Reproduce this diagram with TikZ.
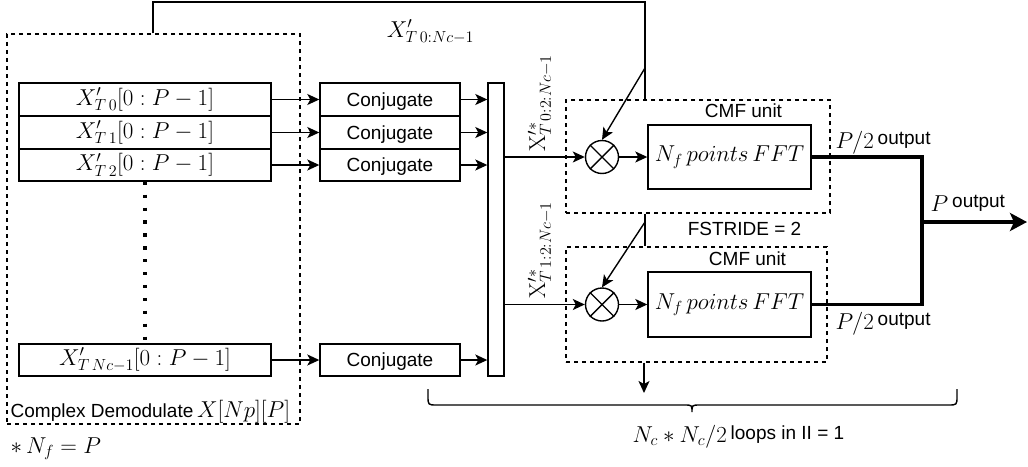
\RequirePackage{fix-cm}
\documentclass[tikz,border=0pt]{standalone}
\usepackage[no-math]{fontspec}
\newfontfamily\arialfam{Liberation Sans}
\usetikzlibrary{arrows.meta}
\newcommand\sanstxt{\fontsize{19}{23}\selectfont\arialfam}
\newcommand\mathsz{\fontsize{23}{28}\selectfont}
\begin{document}
\begin{tikzpicture}[x=1pt,y=-1pt,
  line width=1.4pt,
  >={Stealth[length=12pt,width=11pt,inset=3pt]},
  inbox/.style={draw,rectangle,inner sep=0pt,minimum width=252pt,minimum height=33pt,font=\mathsz},
  conjbox/.style={draw,rectangle,inner sep=0pt,minimum width=140pt,minimum height=33pt,font=\sanstxt,text height=13.6pt,text depth=0pt},
  dashbox/.style={draw,rectangle,inner sep=0pt,line width=1.3pt,dash pattern=on 4pt off 4pt},
  fftbox/.style={draw,rectangle,inner sep=0pt,minimum width=163pt,font=\mathsz},
  mult/.style={draw,circle,inner sep=0pt,minimum size=33pt},
  sanslbl/.style={inner sep=0pt,font=\sanstxt},
  mathlbl/.style={inner sep=0pt,font=\mathsz},
  thickline/.style={line width=3.5pt,line join=miter},
  bigarrow/.style={line width=3.5pt,-{Stealth[length=17pt,width=18pt,inset=4pt]}}
]
\useasboundingbox (0,0) rectangle (1028,466);

% outer dashed box
\node[dashbox,minimum width=293pt,minimum height=390pt] (demod) at (153.5,229) {};

% input rows
\node[inbox] (in0) at (145,99.5) {$X'_{T\,0}[0:P-1]$};
\node[inbox] (in1) at (145,132.5) {$X'_{T\,1}[0:P-1]$};
\node[inbox,minimum height=32pt] (in2) at (145,165) {$X'_{T\,2}[0:P-1]$};
\node[inbox,minimum height=32pt] (in3) at (145,360) {$X'_{T\,Nc-1}[0:P-1]$};

% dotted line
\draw[line width=3.3pt,dash pattern=on 3.3pt off 9.6pt] (in2.south) -- (in3.north);

% conjugate boxes
\node[conjbox] (cj0) at (390,99.5) {Conjugate};
\node[conjbox] (cj1) at (390,132.5) {Conjugate};
\node[conjbox,minimum height=32pt] (cj2) at (390,165) {Conjugate};
\node[conjbox,minimum height=32pt] (cj3) at (390,360) {Conjugate};

\foreach \i in {0,1,2,3} {\draw[->] (in\i.east) -- (cj\i.west);}

% bar
\node[draw,rectangle,inner sep=0pt,minimum width=16pt,minimum height=293pt] (bar) at (496,229.5) {};
\foreach \i in {0,1,2,3} {\draw[->] (cj\i.east) -- (bar.west |- cj\i.east);}

% CMF units
\node[dashbox,minimum width=264pt,minimum height=113pt] (cmf1) at (698,156.5) {};
\node[dashbox,minimum width=261pt,minimum height=115pt] (cmf2) at (696.5,304.5) {};
\node[sanslbl] (cmfl1) at (743.5,111) {CMF unit};
\node[sanslbl] (cmfl2) at (747.5,258.5) {CMF unit};

\node[fftbox,minimum height=64pt] (fft1) at (729.5,157) {$N_f\,points\,FFT$};
\node[fftbox,minimum height=65pt] (fft2) at (729.5,304.5) {$N_f\,points\,FFT$};

\node[mult] (ot1) at (602,157) {};
\node[mult] (ot2) at (602,304.5) {};
\draw (ot1.north west) -- (ot1.south east) (ot1.north east) -- (ot1.south west);
\draw (ot2.north west) -- (ot2.south east) (ot2.north east) -- (ot2.south west);

\draw[->] (bar.east |- ot1) -- (ot1.west);
\draw[->] (bar.east |- ot2) -- (ot2.west);
\draw[->] (ot1.east) -- (fft1.west);
\draw[->] (ot2.east) -- (fft2.west);

% feedback line
\coordinate (c153) at (153,0);
\coordinate (c645) at (645,0);
\coordinate (top1) at (153,2);
\coordinate (top2) at (645,2);
\coordinate (d1) at (645,68);
\coordinate (d2) at (645,222);
\draw (demod.north -| c153) -- (top1) -- (top2) -- (cmf1.north -| c645);
\draw[->] (d1) -- (ot1.north);
\draw (cmf1.south -| c645) -- (cmf2.north -| c645);
\draw[->] (d2) -- (ot2.north);

% down arrow
\coordinate (c644) at (644,0);
\coordinate (dn) at (644,393);
\draw[->] (cmf2.south -| c644) -- (dn);

% outputs
\coordinate (oj) at (922,222);
\coordinate (oend) at (1027,222);
\draw[thickline] (fft1.east) -- (fft1.east -| oj) -- (fft2.east -| oj) -- (fft2.east);
\draw[bigarrow] (oj) -- (oend);

% labels
\node[mathlbl,anchor=base] (xtop) at (430.5,37) {$X'_{T\,0:Nc-1}$};
\node[mathlbl,rotate=90] (xr1) at (540,103) {$\mathrm{X}'^{*}_{T\,0:2:Nc-1}$};
\node[mathlbl,rotate=90] (xr2) at (540,250) {$\mathrm{X}'^{*}_{T\,1:2:Nc-1}$};
\node[mathlbl,anchor=base west] (p2a) at (835,148) {$P/2$\,\raisebox{4pt}{\sanstxt output}};
\node[mathlbl,anchor=base west] (p2b) at (835,329) {$P/2$\,\raisebox{4pt}{\sanstxt output}};
\node[mathlbl,anchor=base west] (pout) at (930,211) {$P$\,\raisebox{4pt}{\sanstxt output}};
\node[sanslbl] (fstride) at (744.5,229) {FSTRIDE = 2};
\node[mathlbl,anchor=base west] (cdl) at (10,417) {{\sanstxt Complex Demodulate}\,$X[Np][P]$};
\node[mathlbl,anchor=base west] (nfp) at (10,453) {$*\,N_f=P$};
\node[mathlbl,anchor=base west] (loops) at (632,442) {$N_c*N_c/2$\,\raisebox{3pt}{\sanstxt loops in II = 1}};

% brace
\draw (428,389) -- (428,396) .. controls (428,405) .. (437,405) -- (684,405)
  .. controls (692,405) .. (692,412) .. controls (692,405) .. (700,405)
  -- (948,405) .. controls (957,405) .. (957,396) -- (957,389);
\end{tikzpicture}
\end{document}
